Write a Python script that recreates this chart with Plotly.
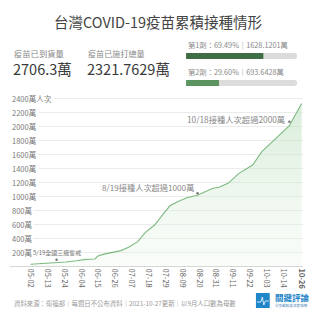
import plotly.graph_objects as go

# ---------------- data ----------------
dates = ["2021-05-02", "2021-05-16", "2021-05-25", "2021-06-01", "2021-06-07",
         "2021-06-13", "2021-06-15", "2021-06-19", "2021-06-26", "2021-06-30",
         "2021-07-05", "2021-07-11", "2021-07-16", "2021-07-22", "2021-07-28",
         "2021-08-01", "2021-08-06", "2021-08-12", "2021-08-19", "2021-08-23",
         "2021-08-29", "2021-09-02", "2021-09-08", "2021-09-15", "2021-09-24",
         "2021-09-30", "2021-10-07", "2021-10-13", "2021-10-18", "2021-10-20",
         "2021-10-26"]
doses = [25, 40, 57, 75, 95,
         100, 143, 170, 205, 220,
         267, 348, 480, 585, 752,
         860, 919, 975, 1010, 1048,
         1110, 1124, 1181, 1324, 1443,
         1633, 1776, 1896, 2005, 2086,
         2322]

y_ticks = [200, 400, 600, 800, 1000, 1200, 1400, 1600, 1800, 2000, 2200, 2400]
y_tick_text = ["200萬", "400萬", "600萬", "800萬", "1000萬", "1200萬", "1400萬",
               "1600萬", "1800萬", "2000萬", "2200萬", "2400萬人次"]

x_ticks = ["2021-05-02", "2021-05-13", "2021-05-24", "2021-06-04", "2021-06-15",
           "2021-06-26", "2021-07-07", "2021-07-18", "2021-07-29", "2021-08-09",
           "2021-08-20", "2021-08-31", "2021-09-11", "2021-09-22", "2021-10-03",
           "2021-10-14", "2021-10-26"]
x_tick_text = ["05-02", "05-13", "05-24", "06-04", "06-15", "06-26", "07-07",
               "07-18", "07-29", "08-09", "08-20", "08-31", "09-11", "09-22",
               "10-03", "10-14", "<b>10-26</b>"]

note_dates = ["2021-05-19", "2021-08-19", "2021-10-18"]
note_vals = [90, 1040, 2060]
note_text = ["5/19全國三級警戒", "8/19接種人次超過1000萬", "10/18接種人次超過2000萬"]

dose_labels = ["第1劑：69.49%｜1628.1201萬", "第2劑：29.60%｜693.6428萬"]
dose_pct = [69.49, 29.60]
dose_colors = ["#3f6e46", "#5b9460"]

arrived = "2706.3萬"
administered = "2321.7629萬"

FONT = "Noto Sans CJK TC"
W = H = 320


def px(x):
    return x / W


def py(y):
    return 1 - y / H


fig = go.Figure()

# main area
fig.add_trace(go.Scatter(
    x=dates, y=doses, mode="lines",
    line=dict(color="#7dba80", width=1.1),
    fill="tozeroy",
    fillgradient=dict(type="vertical",
                      colorscale=[[0, "rgba(226,242,226,0.2)"],
                                  [1, "rgba(190,224,192,0.6)"]]),
    hoverinfo="skip", showlegend=False,
    xaxis="x", yaxis="y"))

# note dots
fig.add_trace(go.Scatter(
    x=note_dates, y=note_vals, mode="markers",
    marker=dict(size=2.5, color="#777"),
    hoverinfo="skip", showlegend=False, xaxis="x", yaxis="y"))

# progress bars
fig.add_trace(go.Bar(
    x=[100, 100], y=[0, 1], orientation="h", width=0.23,
    marker=dict(color="#dcdcdc", cornerradius=3, line=dict(width=0)),
    hoverinfo="skip", showlegend=False, xaxis="x2", yaxis="y2"))
fig.add_trace(go.Bar(
    x=dose_pct, y=[0, 1], orientation="h", width=0.23,
    marker=dict(color=dose_colors, cornerradius=3, line=dict(width=0)),
    hoverinfo="skip", showlegend=False, xaxis="x2", yaxis="y2"))

annotations = []

# y tick labels (left aligned, covering gridlines)
for v, t in zip(y_ticks, y_tick_text):
    annotations.append(dict(
        x=px(10), y=v, xref="paper", yref="y", xanchor="left", yanchor="middle",
        text=t, showarrow=False, bgcolor="white", borderpad=1,
        font=dict(family=FONT, size=7.5, color="#7a7a7a")))

# notes
annotations.append(dict(
    x=note_dates[0], y=note_vals[0], xref="x", yref="y",
    xanchor="center", yanchor="bottom", yshift=1, xshift=0,
    text=note_text[0], showarrow=False,
    font=dict(family=FONT, size=6, color="#777")))
annotations.append(dict(
    x=note_dates[1], y=note_vals[1], xref="x", yref="y",
    xanchor="right", yanchor="middle", yshift=6, xshift=-1,
    text=note_text[1], showarrow=False,
    font=dict(family=FONT, size=8.2, color="#888")))
annotations.append(dict(
    x=note_dates[2], y=note_vals[2], xref="x", yref="y",
    xanchor="right", yanchor="middle", yshift=3, xshift=-2,
    text=note_text[2], showarrow=False,
    font=dict(family=FONT, size=8.3, color="#888")))

# header
annotations.append(dict(
    x=px(161), y=py(21), xref="paper", yref="paper", xanchor="center", yanchor="middle",
    text="台灣COVID-19疫苗累積接種情形", showarrow=False,
    font=dict(family=FONT, size=14.5, color="#444")))
annotations.append(dict(
    x=px(12), y=py(53), xref="paper", yref="paper", xanchor="left", yanchor="middle",
    text="疫苗已到貨量", showarrow=False,
    font=dict(family=FONT, size=8.3, color="#888")))
annotations.append(dict(
    x=px(11), y=py(68), xref="paper", yref="paper", xanchor="left", yanchor="middle",
    text=arrived, showarrow=False,
    font=dict(family=FONT, size=14.5, color="#3a3a3a")))
annotations.append(dict(
    x=px(87), y=py(53), xref="paper", yref="paper", xanchor="left", yanchor="middle",
    text="疫苗已施打總量", showarrow=False,
    font=dict(family=FONT, size=8.1, color="#888")))
annotations.append(dict(
    x=px(86), y=py(68), xref="paper", yref="paper", xanchor="left", yanchor="middle",
    text=administered, showarrow=False,
    font=dict(family=FONT, size=14.5, color="#3a3a3a")))
for i, t in enumerate(dose_labels):
    annotations.append(dict(
        x=px(189), y=py(45 + 27 * i), xref="paper", yref="paper",
        xanchor="left", yanchor="middle", text=t, showarrow=False,
        font=dict(family=FONT, size=7.3, color="#888")))

# footer
annotations.append(dict(
    x=px(12), y=py(303), xref="paper", yref="paper", xanchor="left", yanchor="middle",
    text="資料來源：衛福部｜每週日不公布資料｜2021-10-27更新｜以9月人口數為母數",
    showarrow=False, font=dict(family=FONT, size=6.4, color="#9a9a9a")))
annotations.append(dict(
    x=px(277), y=py(297), xref="paper", yref="paper", xanchor="left", yanchor="middle",
    text="<b>關鍵評論</b>", showarrow=False,
    font=dict(family=FONT, size=8.5, color="#1f86c8")))
annotations.append(dict(
    x=px(277), y=py(305.5), xref="paper", yref="paper", xanchor="left", yanchor="middle",
    text="分享觀點與深度報導", showarrow=False,
    font=dict(family=FONT, size=3.6, color="#5a8fc0")))

shapes = [
    dict(type="rect", xref="paper", yref="paper",
         x0=px(260), x1=px(274), y0=py(308), y1=py(293),
         fillcolor="#1f86c8", line=dict(width=0)),
    dict(type="path", xref="paper", yref="paper",
         path=f"M {px(261)} {py(302)} L {px(265)} {py(302)} L {px(266.5)} {py(297)} "
              f"L {px(268)} {py(305)} L {px(269.5)} {py(301)} L {px(273)} {py(301)}",
         line=dict(color="white", width=0.8)),
]

fig.update_layout(
    width=W, height=H,
    margin=dict(l=0, r=0, t=0, b=0),
    paper_bgcolor="white", plot_bgcolor="white",
    font=dict(family=FONT),
    barmode="overlay",
    xaxis=dict(
        domain=[px(10), px(308)],
        type="date",
        range=["2021-04-18 12:00", "2021-10-27 00:00"],
        tickvals=x_ticks, ticktext=x_tick_text, tickangle=90,
        tickfont=dict(family=FONT, size=7.5, color="#666"),
        ticks="", ticklen=0,
        showgrid=False, showline=True, linecolor="#d6d6d6", linewidth=1,
        zeroline=False, fixedrange=True),
    yaxis=dict(
        domain=[54 / H, 1 - 95.9 / H],
        range=[0, 2430],
        tickvals=y_ticks, showticklabels=False, ticks="",
        showgrid=True, gridcolor="#ececec", gridwidth=1,
        zeroline=False, showline=False, fixedrange=True),
    xaxis2=dict(
        domain=[px(189), px(302)], range=[0, 100], anchor="y2",
        visible=False, fixedrange=True),
    yaxis2=dict(
        domain=[1 - 96.5 / H, 1 - 42.5 / H], range=[1.5, -0.5], anchor="x2",
        visible=False, fixedrange=True),
    annotations=annotations,
    shapes=shapes,
)

fig.write_html("out.html")
